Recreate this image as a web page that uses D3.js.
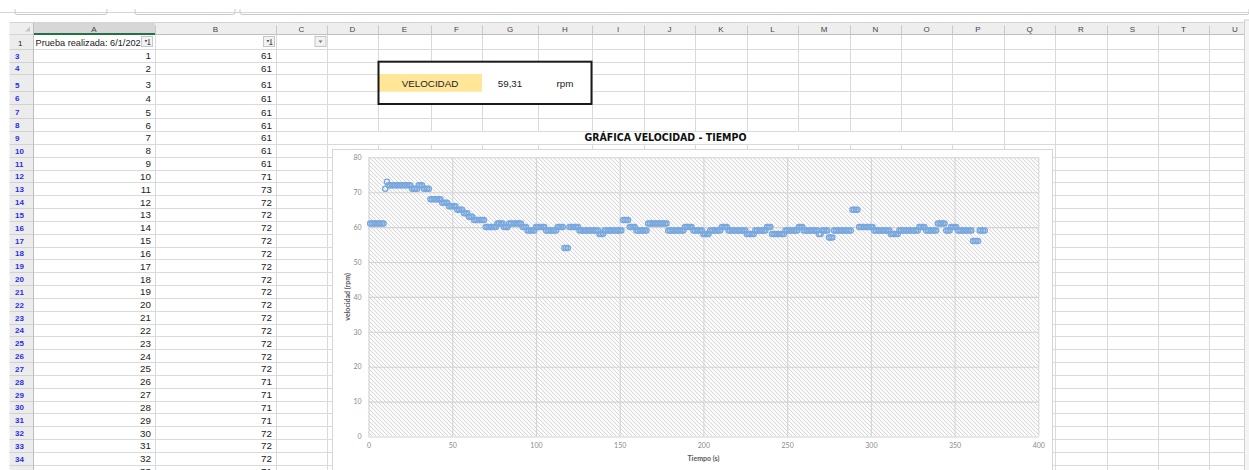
<!DOCTYPE html>
<html>
<head>
<meta charset="utf-8">
<script src="https://cdn.jsdelivr.net/npm/d3@7"></script>
<style>
  body { margin: 0; background: #ffffff; overflow: hidden; }
  svg { display: block; }
</style>
</head>
<body>
<svg id="hoja" width="1249" height="470"></svg>
<script>
// ---- Datos de la prueba: velocidad (rpm) registrada cada segundo ----
const velocidad = [
  61,61,61,61,61,61,61,61,61,71, 73,72,72,72,72,72,72,72,72,72,
  72,72,72,72,72,71,71,71,71,72, 72,72,71,71,71,71,68,68,68,68,
  68,68,68,67,67,67,67,66,66,66, 66,66,65,65,65,65,64,64,64,63,
  63,63,62,62,62,62,62,62,62,60, 60,60,60,60,60,60,61,61,61,61,
  60,60,60,61,61,61,61,61,61,61, 61,60,60,60,59,59,59,59,59,60,
  60,60,60,60,60,59,59,59,59,59, 59,59,60,60,60,60,54,54,54,60,
  60,60,60,60,60,59,59,59,59,59, 59,59,59,59,59,59,59,58,58,58,
  59,59,59,59,59,59,59,59,59,59, 59,62,62,62,62,60,60,60,60,59,
  59,59,59,59,59,59,61,61,61,61, 61,61,61,61,61,61,61,61,59,59,
  59,59,59,59,59,59,59,59,60,60, 60,60,60,59,59,59,59,59,59,58,
  58,58,58,59,59,59,59,59,59,59, 60,60,60,60,59,59,59,59,59,59,
  59,59,59,59,59,58,58,58,58,58, 59,59,59,59,59,59,59,60,60,60,
  58,58,58,58,58,58,58,58,59,59, 59,59,59,59,59,59,60,60,60,59,
  59,59,59,59,59,59,59,59,58,58, 59,59,59,59,57,57,57,59,59,59,
  59,59,59,59,59,59,59,59,65,65, 65,65,60,60,60,60,60,60,60,60,
  60,59,59,59,59,59,59,59,59,59, 59,58,58,58,58,58,59,59,59,59,
  59,59,59,59,59,59,59,59,60,60, 60,60,59,59,59,59,59,59,59,61,
  61,61,61,61,59,59,59,60,60,60, 60,59,59,59,59,59,59,59,59,59,
  56,56,56,56,59,59,59,59
];
// Segundos transcurridos (columna A)
const tiempo = d3.range(1, velocidad.length + 1);

const xTicks = [0, 50, 100, 150, 200, 250, 300, 350, 400];
const yTicks = [0, 10, 20, 30, 40, 50, 60, 70, 80];
const columnas = ["A","B","C","D","E","F","G","H","I","J","K","L","M","N","O","P","Q","R","S","T","U"];
const tituloGrafica = "GRÁFICA VELOCIDAD - TIEMPO";
const tituloEjeX = "Tiempo (s)";
const tituloEjeY = "velocidad (rpm)";
const encabezadoA1 = "Prueba realizada: 6/1/202";
const etiquetaResumen = "VELOCIDAD";
const velocidadMedia = "59,31";
const unidad = "rpm";

// ---- Geometría de la hoja ----
const svg = d3.select("#hoja");
const W = 1249, H = 470;
const colEdges = [33,155,276,327,378,431,482,538,592,644,695,747,798,850,901,952,1004,1055,1107,1158,1209,1261];
const viewRight = 1244;
const headerTop = 22.5, headerBottom = 34.5;
// filas visibles (la fila 2 está oculta por el filtro)
const rows = [];
const firstTops = [[1,34.5],[3,48.5],[4,61.7],[5,74],[6,90.7],[7,104],[8,118.3]];
firstTops.forEach(([n,t]) => rows.push({n, top: t}));
for (let n = 9; n <= 36; n++) rows.push({n, top: 118.3 + (n - 8) * 12.83});
rows.forEach((r, i) => { r.bottom = i < rows.length - 1 ? rows[i+1].top : r.top + 12.83; });
const rowByNum = n => rows.find(r => r.n === n);

const grid = "#dadada";
const gridFont = "'Liberation Sans', Arial, sans-serif";

svg.append("rect").attr("width", W).attr("height", H).attr("fill", "#ffffff");

// barra superior (borde inferior de cuadro de nombres y barra de fórmulas)
const barra = svg.append("g");
barra.append("line").attr("x1", 0).attr("x2", W).attr("y1", 12.5).attr("y2", 12.5).attr("stroke", "#d6d6d6");
[[15,107],[135,235],[240,W]].forEach(([a,b]) => {
  barra.append("path").attr("d", `M${a},9 L${a},12.5 Q${a},14.5 ${a+2},14.5 L${b-2},14.5 Q${b},14.5 ${b},12.5 L${b},9`)
    .attr("fill", "none").attr("stroke", "#c9c9c9");
});

// ---- Cuadrícula de celdas ----
const cells = svg.append("g").attr("shape-rendering", "crispEdges");
rows.forEach(r => {
  cells.append("line").attr("x1", colEdges[0]).attr("x2", viewRight)
    .attr("y1", Math.round(r.bottom) + 0.5).attr("y2", Math.round(r.bottom) + 0.5).attr("stroke", grid);
});
colEdges.forEach(cx => {
  if (cx > viewRight) return;
  cells.append("line").attr("x1", cx + 0.5).attr("x2", cx + 0.5)
    .attr("y1", headerBottom).attr("y2", H).attr("stroke", grid);
});

// celda combinada del título (D9:P9)
const r9 = rowByNum(9);
cells.append("rect").attr("x", colEdges[3] + 1).attr("y", Math.round(r9.top) + 1)
  .attr("width", colEdges[16] - colEdges[3] - 1).attr("height", Math.round(r9.bottom) - Math.round(r9.top) - 1)
  .attr("fill", "#fff");

// recuadro de resumen E4:H6
const r4 = rowByNum(4), r5 = rowByNum(5), r6 = rowByNum(6);
const box = svg.append("g");
box.append("rect").attr("x", colEdges[4]).attr("y", r4.top).attr("width", colEdges[8] - colEdges[4])
  .attr("height", r6.bottom - r4.top).attr("fill", "#fff");
box.append("rect").attr("x", colEdges[4]).attr("y", r5.top).attr("width", colEdges[6] - colEdges[4])
  .attr("height", r5.bottom - r5.top + 1).attr("fill", "#ffe699");
box.append("rect").attr("x", colEdges[4] + 0.5).attr("y", r4.top).attr("width", colEdges[8] - colEdges[4] - 1)
  .attr("height", r6.bottom - r4.top).attr("fill", "none").attr("stroke", "#1a1a1a").attr("stroke-width", 2);
const boxText = (txt, px) => box.append("text").attr("x", px).attr("y", r5.bottom - 4)
  .attr("text-anchor", "middle").attr("font-family", gridFont).attr("font-size", 9.8).attr("fill", "#222").text(txt);
boxText(etiquetaResumen, (colEdges[4] + colEdges[6]) / 2);
boxText(velocidadMedia, (colEdges[6] + colEdges[7]) / 2);
boxText(unidad, (colEdges[7] + colEdges[8]) / 2);

// ---- Encabezados de columna y fila ----
const hdr = svg.append("g");
hdr.append("rect").attr("x", 9.5).attr("y", headerTop).attr("width", viewRight - 9.5).attr("height", headerBottom - headerTop)
  .attr("fill", "#eeeeee");
hdr.append("rect").attr("x", colEdges[0]).attr("y", headerTop).attr("width", colEdges[1] - colEdges[0])
  .attr("height", headerBottom - headerTop).attr("fill", "#d7d7d7");
hdr.append("line").attr("x1", 9.5).attr("x2", viewRight).attr("y1", headerTop).attr("y2", headerTop).attr("stroke", "#d4d4d4");
hdr.append("line").attr("x1", 9.5).attr("x2", viewRight).attr("y1", headerBottom).attr("y2", headerBottom).attr("stroke", "#bfbfbf");
hdr.append("line").attr("x1", colEdges[0]).attr("x2", colEdges[1]).attr("y1", headerBottom - 0.5).attr("y2", headerBottom - 0.5)
  .attr("stroke", "#217346").attr("stroke-width", 2);
columnas.forEach((c, i) => {
  const x0 = colEdges[i], x1 = colEdges[i+1];
  hdr.append("line").attr("x1", x1 + 0.5).attr("x2", x1 + 0.5).attr("y1", headerTop + 3).attr("y2", headerBottom)
    .attr("stroke", "#c8c8c8");
  hdr.append("text").attr("x", (x0 + x1) / 2).attr("y", headerBottom - 3).attr("text-anchor", "middle")
    .attr("font-family", gridFont).attr("font-size", 8).attr("fill", "#444").text(c);
});
// esquina superior izquierda
hdr.append("path").attr("d", `M30,${headerBottom-3} L30,${headerBottom-8} L25,${headerBottom-3} Z`).attr("fill", "#c4c4c4");

// encabezados de fila
hdr.append("rect").attr("x", 9.5).attr("y", headerBottom).attr("width", colEdges[0] - 9.5).attr("height", H - headerBottom)
  .attr("fill", "#ececec");
hdr.append("line").attr("x1", colEdges[0] + 0.5).attr("x2", colEdges[0] + 0.5).attr("y1", headerTop).attr("y2", H).attr("stroke", "#bfbfbf");
rows.forEach(r => {
  hdr.append("line").attr("x1", 9.5).attr("x2", colEdges[0]).attr("y1", Math.round(r.bottom) + 0.5)
    .attr("y2", Math.round(r.bottom) + 0.5).attr("stroke", "#d2d2d2");
  hdr.append("text").attr("x", r.n === 1 ? 18 : 15).attr("y", r.bottom - 3)
    .attr("font-family", gridFont).attr("font-size", 8).attr("font-weight", r.n === 1 ? "normal" : "bold")
    .attr("fill", r.n === 1 ? "#222" : "#2b2bf0").text(r.n);
});

// ---- Contenido de la tabla (columnas A y B) ----
const tbl = svg.append("g").attr("font-family", gridFont).attr("font-size", 9.8).attr("fill", "#222");
svg.append("clipPath").attr("id", "clipA1").append("rect").attr("x", colEdges[0]).attr("y", 34)
  .attr("width", 108).attr("height", 14);
const r1 = rowByNum(1);
tbl.append("text").attr("x", 35.5).attr("y", r1.bottom - 3).attr("font-size", 9.2)
  .attr("clip-path", "url(#clipA1)").text(encabezadoA1);
// botones de filtro
[[141.5, "sort"], [263.5, "sort"], [315, "drop"]].forEach(([bx, kind]) => {
  const g = svg.append("g");
  g.append("rect").attr("x", bx).attr("y", 36.5).attr("width", 11).attr("height", 10).attr("fill", "#f2f2f2")
    .attr("stroke", "#c6c6c6");
  if (kind === "sort") {
    g.append("path").attr("d", `M${bx+3},${40} l3,0 l-1.5,2.5 z`).attr("fill", "#555");
    g.append("line").attr("x1", bx + 7.5).attr("x2", bx + 7.5).attr("y1", 39).attr("y2", 44.5).attr("stroke", "#555");
    g.append("line").attr("x1", bx + 6).attr("x2", bx + 9).attr("y1", 44.5).attr("y2", 44.5).attr("stroke", "#555");
  } else {
    g.append("path").attr("d", `M${bx+3.5},${40.5} l4,0 l-2,2.5 z`).attr("fill", "#777");
  }
});
const filasDatos = rows.filter(r => r.n >= 3);
filasDatos.forEach((r, i) => {
  if (i >= tiempo.length) return;
  tbl.append("text").attr("x", colEdges[1] - 4).attr("y", r.bottom - 2.5).attr("text-anchor", "end").text(tiempo[i]);
  tbl.append("text").attr("x", colEdges[2] - 4).attr("y", r.bottom - 2.5).attr("text-anchor", "end").text(velocidad[i]);
});

// título de la gráfica (celda combinada)
svg.append("text").attr("x", (colEdges[3] + colEdges[16]) / 2).attr("y", r9.bottom - 3)
  .attr("text-anchor", "middle").attr("font-family", "'Liberation Sans Narrow', 'DejaVu Sans Condensed', sans-serif")
  .attr("font-weight", "bold").attr("font-size", 10.5).attr("fill", "#111").text(tituloGrafica);

// ---- Gráfico de dispersión ----
const chart = svg.append("g");
chart.append("rect").attr("x", 332.5).attr("y", 149.5).attr("width", 720).attr("height", 340)
  .attr("fill", "#ffffff").attr("stroke", "#d6d6d6");

const plot = { left: 368.5, right: 1038.3, top: 157.3, bottom: 436.5 };
const x = d3.scaleLinear().domain([0, 400]).range([plot.left, plot.right]);
const y = d3.scaleLinear().domain([0, 80]).range([plot.bottom, plot.top]);

const defs = svg.append("defs");
const pat = defs.append("pattern").attr("id", "rayado").attr("patternUnits", "userSpaceOnUse")
  .attr("width", 4).attr("height", 4);
pat.append("rect").attr("width", 4).attr("height", 4).attr("fill", "#fbfbfb");
pat.append("path").attr("d", "M-1,-1 L5,5 M-1,3 L1,5 M3,-1 L5,1").attr("stroke", "#d7d7d7").attr("stroke-width", 1);

chart.append("rect").attr("x", plot.left).attr("y", plot.top).attr("width", plot.right - plot.left)
  .attr("height", plot.bottom - plot.top).attr("fill", "url(#rayado)");

const gx = chart.append("g").attr("transform", `translate(0,${plot.bottom})`)
  .call(d3.axisBottom(x).tickValues(xTicks).tickSize(-(plot.bottom - plot.top)).tickPadding(7));
const gy = chart.append("g").attr("transform", `translate(${plot.left},0)`)
  .call(d3.axisLeft(y).tickValues(yTicks).tickSize(-(plot.right - plot.left)).tickPadding(7));
[gx, gy].forEach(g => {
  g.select(".domain").remove();
  g.selectAll(".tick line").attr("stroke", "#d4d4d4").attr("stroke-width", 1.1);
  g.selectAll(".tick text").attr("font-family", "Lato, 'Open Sans', sans-serif").attr("font-size", 7)
    .attr("fill", "#8a8a8a");
});

chart.append("text").attr("x", (plot.left + plot.right) / 2).attr("y", 460.5).attr("text-anchor", "middle")
  .attr("font-family", "Lato, 'Open Sans', sans-serif").attr("font-weight", "bold").attr("font-size", 7)
  .attr("fill", "#595959").text(tituloEjeX);
chart.append("text").attr("transform", `translate(349.5,${(plot.top + plot.bottom) / 2}) rotate(-90)`)
  .attr("text-anchor", "middle").attr("font-family", "Lato, 'Open Sans', sans-serif").attr("font-weight", "bold")
  .attr("font-size", 7).attr("fill", "#595959").text(tituloEjeY);

// marcadores circulares huecos: al solaparse forman bandas continuas
chart.append("g").selectAll("circle").data(tiempo).join("circle")
  .attr("cx", (d) => x(d)).attr("cy", (d, i) => y(velocidad[i])).attr("r", 2.6)
  .attr("fill", "none").attr("stroke", "#78a8de").attr("stroke-width", 1.3);

// borde derecho de la vista / barra de desplazamiento
svg.append("rect").attr("x", viewRight + 0.5).attr("y", 20).attr("width", W - viewRight).attr("height", H)
  .attr("fill", "#f4f4f4").attr("stroke", "#d0d0d0");
</script>
</body>
</html>
